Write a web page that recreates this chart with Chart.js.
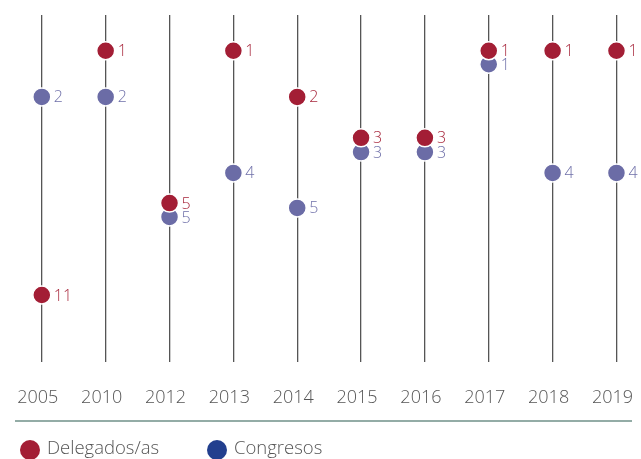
<!DOCTYPE html>
<html>
<head>
<meta charset="utf-8">
<script src="https://cdn.jsdelivr.net/npm/chart.js@4/dist/chart.umd.min.js"></script>
<style>
  body { margin: 0; background: #fff; }
  canvas { display: block; }
</style>
</head>
<body>
<canvas id="chart" width="641" height="459"></canvas>
<script>
const years = ['2005', '2010', '2012', '2013', '2014', '2015', '2016', '2017', '2018', '2019']
// rank shown next to each point
const delegadosRank = [11, 1, 5, 1, 2, 3, 3, 1, 1, 1]
const congresosRank = [2, 2, 5, 4, 5, 3, 3, 1, 4, 4]
// value on the hidden vertical axis (0 at top, 100 at bottom)
const delegadosValue = [80.7, 10.3, 54.2, 10.3, 23.6, 35.4, 35.4, 10.3, 10.3, 10.3]
const congresosValue = [23.6, 23.6, 58.2, 45.5, 55.6, 39.5, 39.5, 14.2, 45.5, 45.5]

const RED = '#a31e35'
const BLUE = '#6b6ca6'
const FONT = '"Open Sans", "Noto Sans", sans-serif'

function toPoints(values) {
  return values.map((v, i) => ({ x: i, y: v }))
}

// writes the rank to the right of each point
const rankLabels = {
  id: 'rankLabels',
  afterDatasetsDraw(chart) {
    const ctx = chart.ctx
    ctx.save()
    ctx.font = '300 16px ' + FONT
    ctx.textBaseline = 'middle'
    ctx.textAlign = 'left'
    chart.data.datasets.forEach((ds, di) => {
      const meta = chart.getDatasetMeta(di)
      ctx.fillStyle = ds.labelColor
      meta.data.forEach((pt, i) => {
        ctx.fillText(String(ds.ranks[i]), pt.x + 12, pt.y + 1)
      })
    })
    ctx.restore()
  }
}

// baseline under the years and the legend row
const footer = {
  id: 'footer',
  afterDraw(chart) {
    const ctx = chart.ctx
    ctx.save()
    ctx.strokeStyle = '#93aca6'
    ctx.lineWidth = 2
    ctx.beginPath()
    ctx.moveTo(15, 421)
    ctx.lineTo(632, 421)
    ctx.stroke()

    const items = [
      { text: chart.data.datasets[0].label, color: RED, x: 30 },
      { text: chart.data.datasets[1].label, color: '#223f8e', x: 217 }
    ]
    ctx.font = '300 18.5px ' + FONT
    ctx.textBaseline = 'middle'
    items.forEach(it => {
      ctx.fillStyle = it.color
      ctx.beginPath()
      ctx.arc(it.x, 450, 10, 0, Math.PI * 2)
      ctx.fill()
      ctx.fillStyle = '#555'
      ctx.fillText(it.text, it.x + 17, 449)
    })
    ctx.restore()
  }
}

new Chart(document.getElementById('chart'), {
  type: 'scatter',
  data: {
    datasets: [
      {
        label: 'Delegados/as',
        data: toPoints(delegadosValue),
        ranks: delegadosRank,
        labelColor: '#a8283d',
        backgroundColor: RED,
        borderColor: '#fff',
        borderWidth: 1.5,
        pointRadius: 9,
        pointHoverRadius: 9
      },
      {
        label: 'Congresos',
        data: toPoints(congresosValue),
        ranks: congresosRank,
        labelColor: '#6f70a9',
        backgroundColor: BLUE,
        borderColor: '#fff',
        borderWidth: 1.5,
        pointRadius: 9,
        pointHoverRadius: 9
      }
    ]
  },
  options: {
    responsive: false,
    animation: false,
    layout: { padding: { left: 15, right: 9, top: 15, bottom: 47 } },
    plugins: {
      legend: { display: false },
      tooltip: { enabled: false }
    },
    scales: {
      x: {
        type: 'linear',
        min: -0.42,
        max: 9.22,
        afterBuildTicks(scale) {
          scale.ticks = years.map((y, i) => ({ value: i }))
        },
        afterFit(scale) {
          scale.height = 50
          scale.paddingLeft = 0
          scale.paddingRight = 0
        },
        border: { display: false },
        grid: { color: '#555', lineWidth: 1.3, drawTicks: false },
        ticks: {
          padding: 25,
          labelOffset: -4,
          color: '#555',
          font: { family: FONT, size: 18, weight: 300 },
          callback: v => years[v]
        }
      },
      y: {
        display: false,
        reverse: true,
        min: 0,
        max: 100
      }
    }
  },
  plugins: [rankLabels, footer]
})
</script>
</body>
</html>
